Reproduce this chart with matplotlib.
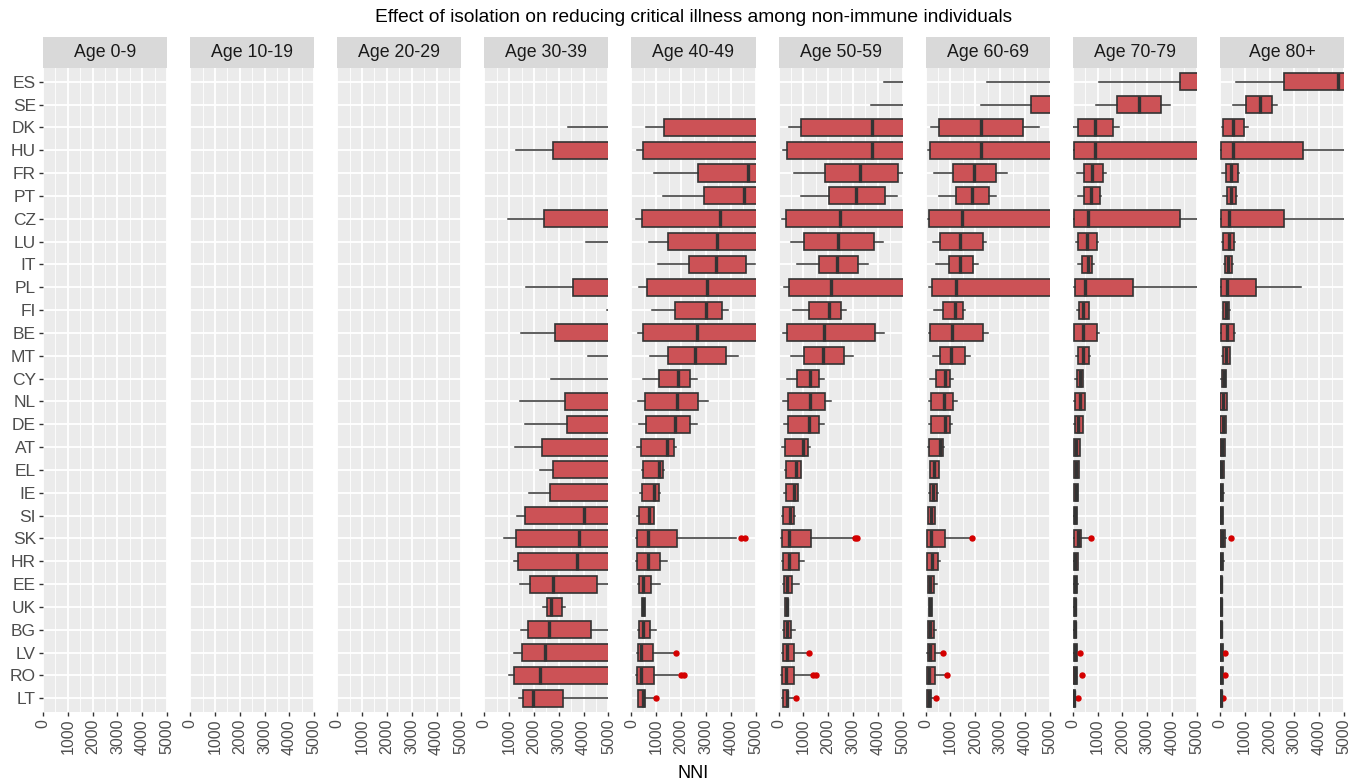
import matplotlib
matplotlib.use("Agg")
import matplotlib.pyplot as plt
from matplotlib.patches import Rectangle
import numpy as np

plt.rcParams['font.family'] = ['Liberation Sans', 'DejaVu Sans']

countries = ["ES", "SE", "DK", "HU", "FR", "PT", "CZ", "LU", "IT", "PL", "FI", "BE", "MT", "CY",
             "NL", "DE", "AT", "EL", "IE", "SI", "SK", "HR", "EE", "UK", "BG", "LV", "RO", "LT"]
age_groups = ["Age 0-9", "Age 10-19", "Age 20-29", "Age 30-39", "Age 40-49",
              "Age 50-59", "Age 60-69", "Age 70-79", "Age 80+"]

# box stats per country: (whisker low, q1, median, q3, whisker high)
# groups 0-29 lie entirely above 5000, so nothing falls inside the window
nni_0_9 = {}
nni_10_19 = {}
nni_20_29 = {}

nni_30_39 = {
    "DK": (3360, 5300, 6500, 8000, 9500), "HU": (1280, 2780, 5600, 9000, 12000),
    "CZ": (940, 2420, 5400, 9000, 12000), "LU": (4100, 5500, 6500, 8000, 9000),
    "PL": (1680, 3560, 6000, 9000, 12000), "FI": (4930, 5800, 7000, 8000, 9000),
    "BE": (1490, 2840, 5500, 8000, 10000), "MT": (4170, 5300, 6000, 7000, 8000),
    "CY": (2690, 5100, 5800, 6500, 7500), "NL": (1420, 3250, 5600, 8000, 9000),
    "DE": (1640, 3330, 5600, 8000, 9000), "AT": (1250, 2310, 5300, 7000, 8000),
    "EL": (2230, 2760, 5200, 6500, 7000), "IE": (1815, 2650, 5100, 6500, 7000),
    "SI": (1330, 1630, 4030, 5600, 6500), "SK": (780, 1280, 3830, 6000, 8000),
    "HR": (1210, 1360, 3740, 5800, 7000), "EE": (1425, 1840, 2750, 4540, 4990),
    "UK": (2350, 2510, 2690, 3120, 3270), "BG": (1480, 1760, 2590, 4300, 5200),
    "LV": (1210, 1500, 2460, 5100, 6000), "RO": (980, 1200, 2250, 5300, 6500),
    "LT": (1380, 1550, 1950, 3160, 5300),
}
nni_40_49 = {
    "DK": (600, 1330, 5200, 7000, 9000), "HU": (230, 470, 5300, 8000, 10000),
    "FR": (890, 2690, 4680, 6500, 8000), "PT": (1280, 2920, 4520, 6000, 7500),
    "CZ": (170, 410, 3570, 6500, 9000), "LU": (710, 1470, 3440, 5600, 7000),
    "IT": (1070, 2310, 3400, 4600, 4970), "PL": (310, 610, 3030, 6000, 8000),
    "FI": (840, 1750, 2990, 3630, 3880), "BE": (270, 480, 2630, 5500, 7000),
    "MT": (730, 1480, 2550, 3790, 4290), "CY": (480, 1110, 1870, 2360, 2650),
    "NL": (270, 550, 1840, 2690, 3070), "DE": (310, 570, 1760, 2360, 2630),
    "AT": (230, 400, 1430, 1710, 1800), "EL": (410, 470, 1110, 1290, 1310),
    "IE": (330, 440, 920, 1130, 1150), "SI": (240, 290, 690, 890, 900),
    "SK": (170, 230, 680, 1850, 4230), "HR": (200, 230, 670, 1160, 1440),
    "EE": (280, 320, 470, 800, 1170), "UK": (410, 420, 480, 550, 560),
    "BG": (280, 310, 450, 760, 970), "LV": (240, 250, 400, 870, 1740),
    "RO": (200, 210, 390, 910, 1880), "LT": (250, 270, 450, 550, 950),
}
nni_50_59 = {
    "ES": (4240, 5500, 7000, 9000, 11000), "SE": (3730, 5200, 6500, 8000, 10000),
    "DK": (420, 910, 3750, 5600, 7000), "HU": (170, 340, 3750, 7000, 9000),
    "FR": (620, 1880, 3270, 4810, 5000), "PT": (890, 2020, 3140, 4290, 4760),
    "CZ": (130, 280, 2490, 6000, 9000), "LU": (500, 1020, 2390, 3850, 4200),
    "IT": (750, 1610, 2360, 3200, 3610), "PL": (210, 420, 2110, 5800, 8000),
    "FI": (590, 1210, 2040, 2530, 2710), "BE": (190, 340, 1820, 3890, 4250),
    "MT": (510, 1020, 1780, 2630, 2980), "CY": (320, 760, 1270, 1640, 1840),
    "NL": (170, 380, 1270, 1880, 2120), "DE": (210, 380, 1220, 1640, 1840),
    "AT": (130, 270, 970, 1190, 1270), "EL": (240, 310, 720, 910, 920),
    "IE": (200, 300, 640, 790, 800), "SI": (130, 170, 460, 630, 660),
    "SK": (110, 130, 440, 1290, 3060), "HR": (130, 160, 440, 820, 1020),
    "EE": (170, 200, 340, 560, 820), "UK": (270, 270, 340, 400, 400),
    "BG": (170, 200, 350, 510, 680), "LV": (130, 160, 320, 620, 1210),
    "RO": (80, 130, 300, 630, 1340), "LT": (130, 160, 320, 400, 650),
}
nni_60_69 = {
    "ES": (2490, 6000, 7500, 9000, 11000), "SE": (2210, 4260, 6000, 7500, 9000),
    "DK": (230, 520, 2210, 3910, 4570), "HU": (110, 170, 2210, 6000, 9000),
    "FR": (350, 1100, 1930, 2840, 3260), "PT": (520, 1210, 1850, 2560, 2820),
    "CZ": (90, 150, 1460, 6000, 9000), "LU": (280, 590, 1380, 2290, 2450),
    "IT": (430, 930, 1380, 1900, 2120), "PL": (130, 240, 1230, 5500, 8000),
    "FI": (350, 710, 1180, 1500, 1600), "BE": (130, 170, 1050, 2310, 2510),
    "MT": (280, 580, 1030, 1570, 1770), "CY": (190, 430, 760, 970, 1090),
    "NL": (120, 210, 750, 1100, 1250), "DE": (150, 230, 790, 980, 1070),
    "AT": (100, 150, 560, 710, 730), "EL": (170, 190, 340, 520, 540),
    "IE": (150, 160, 280, 470, 480), "SI": (90, 90, 200, 380, 380),
    "SK": (60, 70, 230, 760, 1840), "HR": (60, 70, 240, 480, 580),
    "EE": (100, 110, 160, 320, 470), "UK": (130, 130, 190, 240, 240),
    "BG": (90, 90, 170, 350, 400), "LV": (70, 80, 160, 360, 680),
    "RO": (50, 50, 130, 380, 800), "LT": (60, 70, 120, 230, 400),
}
nni_70_79 = {
    "ES": (1040, 4330, 6000, 8000, 10000), "SE": (930, 1770, 2680, 3540, 3900),
    "DK": (20, 220, 910, 1640, 1880), "HU": (10, 50, 910, 5800, 9000),
    "FR": (160, 440, 780, 1200, 1340), "PT": (230, 470, 750, 1080, 1130),
    "CZ": (20, 50, 600, 4300, 5500), "LU": (120, 230, 580, 970, 1020),
    "IT": (190, 380, 600, 790, 870), "PL": (30, 90, 500, 2410, 5300),
    "FI": (160, 270, 400, 650, 660), "BE": (30, 50, 430, 970, 1040),
    "MT": (130, 230, 400, 660, 710), "CY": (90, 170, 300, 400, 430),
    "NL": (40, 70, 300, 480, 510), "DE": (60, 80, 230, 420, 430),
    "AT": (30, 40, 130, 300, 310), "EL": (40, 50, 130, 240, 250),
    "IE": (30, 40, 110, 210, 220), "SI": (20, 30, 90, 170, 180),
    "SK": (20, 30, 200, 320, 740), "HR": (20, 30, 100, 200, 210),
    "EE": (20, 30, 90, 160, 190), "UK": (20, 30, 70, 120, 120),
    "BG": (20, 30, 80, 130, 140), "LV": (20, 30, 80, 150, 160),
    "RO": (10, 20, 80, 150, 170), "LT": (10, 20, 60, 100, 110),
}
nni_80_plus = {
    "ES": (630, 2580, 4770, 6500, 9000), "SE": (540, 1050, 1610, 2110, 2310),
    "DK": (70, 120, 540, 980, 1120), "HU": (20, 30, 540, 3330, 5500),
    "FR": (80, 250, 460, 710, 780), "PT": (120, 280, 430, 630, 700),
    "CZ": (20, 30, 350, 2580, 5500), "LU": (80, 120, 350, 580, 610),
    "IT": (170, 190, 340, 480, 510), "PL": (20, 30, 300, 1450, 3270),
    "FI": (120, 130, 250, 380, 390), "BE": (20, 30, 270, 580, 610),
    "MT": (90, 110, 240, 400, 420), "CY": (60, 80, 160, 240, 250),
    "NL": (10, 20, 130, 280, 290), "DE": (10, 20, 120, 240, 250),
    "AT": (0, 10, 80, 190, 200), "EL": (0, 10, 60, 150, 160),
    "IE": (0, 10, 60, 140, 150), "SI": (0, 0, 50, 110, 120),
    "SK": (0, 10, 90, 220, 230), "HR": (0, 10, 60, 140, 150),
    "EE": (0, 0, 40, 80, 90), "UK": (0, 0, 30, 70, 70),
    "BG": (0, 0, 40, 80, 90), "LV": (0, 0, 50, 110, 120),
    "RO": (0, 0, 50, 110, 120), "LT": (0, 0, 30, 70, 80),
}

# outlying runs
fliers_40_49 = {"SK": [4420, 4560], "LV": [1775], "RO": [1990, 2130], "LT": [1000]}
fliers_50_59 = {"SK": [3080, 3170], "LV": [1235], "RO": [1400, 1500], "LT": [710]}
fliers_60_69 = {"SK": [1860], "LV": [700], "RO": [850], "LT": [430]}
fliers_70_79 = {"SK": [750], "LV": [300], "RO": [360], "LT": [190]}
fliers_80_plus = {"SK": [440], "LV": [190], "RO": [220], "LT": [120]}

panels = [
    (nni_0_9, {}), (nni_10_19, {}), (nni_20_29, {}), (nni_30_39, {}),
    (nni_40_49, fliers_40_49), (nni_50_59, fliers_50_59), (nni_60_69, fliers_60_69),
    (nni_70_79, fliers_70_79), (nni_80_plus, fliers_80_plus),
]

W, H = 1364, 781
fig, axes = plt.subplots(1, 9, sharey=True, figsize=(W / 100, H / 100), dpi=100)
fig.subplots_adjust(left=43 / W, right=1344 / W, bottom=1 - 712 / H, top=1 - 68 / H,
                    wspace=23 / 124)

ypos = {c: len(countries) - i for i, c in enumerate(countries)}
box_color = "#CC5256"
line_color = "#333333"
strip_h = 31 / 644

for ax, label, (data, fliers) in zip(axes, age_groups, panels):
    ax.set_facecolor("#EBEBEB")
    for s in ax.spines.values():
        s.set_visible(False)
    ax.set_xlim(0, 5000)
    ax.set_ylim(0.4, len(countries) + 0.6)
    ax.set_xticks(np.arange(0, 5001, 1000))
    ax.set_xticks(np.arange(500, 5000, 1000), minor=True)
    ax.set_xticklabels([str(v) for v in range(0, 5001, 1000)], rotation=90)
    ax.grid(which="major", color="white", lw=1.3)
    ax.grid(which="minor", axis="x", color="white", lw=0.6)
    ax.set_axisbelow(True)
    ax.tick_params(axis="x", which="major", direction="out", length=3, width=1,
                   color=line_color, labelcolor="#4D4D4D", labelsize=11.5, pad=2)
    ax.tick_params(axis="x", which="minor", length=0)

    stats, pos = [], []
    for c, (lo, q1, med, q3, hi) in data.items():
        stats.append(dict(whislo=lo, q1=q1, med=med, q3=q3, whishi=hi,
                          fliers=fliers.get(c, [])))
        pos.append(ypos[c])
    if stats:
        ax.bxp(stats, positions=pos, widths=0.75, orientation="horizontal",
               patch_artist=True, showcaps=False, manage_ticks=False,
               boxprops=dict(facecolor=box_color, edgecolor=line_color, linewidth=1.2),
               medianprops=dict(color=line_color, linewidth=2.4, solid_capstyle="butt"),
               whiskerprops=dict(color=line_color, linewidth=1.1),
               flierprops=dict(marker="o", markerfacecolor="#D40000",
                               markeredgecolor="#D40000", markersize=3.6))

    ax.add_patch(Rectangle((0, 1), 1, strip_h, transform=ax.transAxes, clip_on=False,
                           facecolor="#D9D9D9", edgecolor="none"))
    ax.text(0.5, 1 + strip_h / 2, label, transform=ax.transAxes, ha="center",
            va="center", fontsize=12.8, color="#1A1A1A")

axes[0].set_yticks([ypos[c] for c in countries])
axes[0].set_yticklabels(countries)
axes[0].tick_params(axis="y", direction="out", length=3, width=1, color=line_color,
                    labelcolor="#4D4D4D", labelsize=12.5, pad=2)
for ax in axes[1:]:
    ax.tick_params(axis="y", length=0)

mid = (43 + 1344) / 2 / W
fig.text(mid, 1 - 18 / H, "Effect of isolation on reducing critical illness among non-immune individuals",
         ha="center", va="center", fontsize=13.8, color="black")
fig.text(mid, 1 - 773 / H, "NNI", ha="center", va="center", fontsize=13, color="black")

fig.savefig("out.png", dpi=100)
